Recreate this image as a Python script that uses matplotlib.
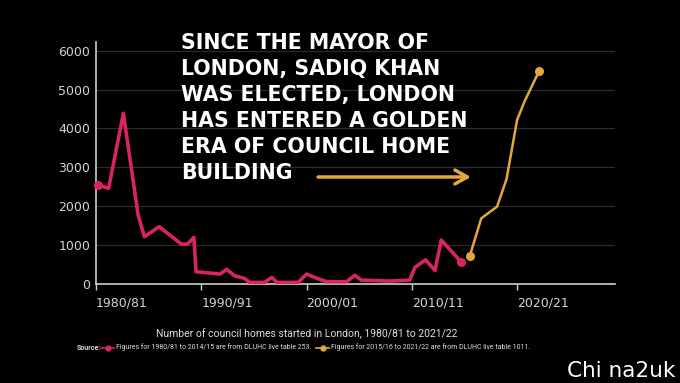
import matplotlib
matplotlib.use("Agg")
import matplotlib.pyplot as plt
from matplotlib.lines import Line2D

# values (x in years, y in homes started)
pink_years = [1980.2, 1981.2, 1982.6, 1984.0, 1984.6, 1986.0, 1988.1, 1988.7, 1989.3, 1989.5,
              1991.8, 1992.4, 1993.2, 1994.1, 1994.6, 1996.0, 1996.7, 1997.2, 1999.2, 2000.0,
              2001.0, 2001.9, 2003.8, 2004.6, 2005.2, 2007.9, 2009.8, 2010.3, 2011.3, 2012.2,
              2012.8, 2014.7]
pink_homes = [2545, 2460, 4390, 1775, 1216, 1473, 1028, 1028, 1200, 316,
              256, 377, 206, 146, 40, 40, 170, 40, 40, 256,
              146, 60, 60, 226, 100, 75, 100, 430, 620, 350,
              1130, 560]

gold_years = [2015.5, 2016.6, 2018.1, 2019.0, 2020.0, 2020.7, 2022.1]
gold_homes = [717, 1690, 1990, 2700, 4220, 4690, 5480]

tick_years = [1980, 1990, 2000, 2010, 2020]
tick_labels = ["1980/81", "1990/91", "2000/01", "2010/11", "2020/21"]
y_ticks = [0, 1000, 2000, 3000, 4000, 5000, 6000]

headline = ("SINCE THE MAYOR OF\nLONDON, SADIQ KHAN\nWAS ELECTED, LONDON\n"
            "HAS ENTERED A GOLDEN\nERA OF COUNCIL HOME\nBUILDING")
caption = "Number of council homes started in London, 1980/81 to 2021/22"
src_pink = "Figures for 1980/81 to 2014/15 are from DLUHC live table 253."
src_gold = "Figures for 2015/16 to 2021/22 are from DLUHC live table 1011."

PINK = "#d8245f"
GOLD = "#e2a83c"
W, H = 680, 383

fig = plt.figure(figsize=(W / 100, H / 100), dpi=100, facecolor="black")
ax = fig.add_axes([96 / W, 1 - 284 / H, (615 - 96) / W, (284 - 41.7) / H])
ax.set_facecolor("black")

ax.plot(pink_years, pink_homes, color=PINK, lw=2.6, solid_joinstyle="round", zorder=3)
ax.plot([pink_years[0], pink_years[-1]], [pink_homes[0], pink_homes[-1]], "o",
        color=PINK, ms=5.5, zorder=4, clip_on=False)
ax.plot(gold_years, gold_homes, color=GOLD, lw=1.8, solid_joinstyle="round", zorder=3)
ax.plot([gold_years[0], gold_years[-1]], [gold_homes[0], gold_homes[-1]], "o",
        color=GOLD, ms=5.5, zorder=4, clip_on=False)

ax.set_xlim(1980, 2029.3)
ax.set_ylim(0, 6230)
ax.set_yticks(y_ticks)
ax.set_xticks(tick_years)
ax.set_xticklabels(tick_labels, ha="left")
ax.grid(axis="y", color="#2b2b2b", lw=0.9)
ax.set_axisbelow(True)
for s in ["top", "right"]:
    ax.spines[s].set_visible(False)
for s in ["left", "bottom"]:
    ax.spines[s].set_color("#cfcfcf")
    ax.spines[s].set_linewidth(1.2)
ax.tick_params(axis="y", length=0, pad=4, labelsize=9, labelcolor="#d4d4d4")
ax.tick_params(axis="x", length=4, width=1, color="#cfcfcf", pad=5,
               labelsize=9, labelcolor="#d4d4d4")

fig.text(181 / W, 1 - 33 / H, headline, color="white", fontsize=14.8,
         fontweight="heavy", va="top", ha="left", linespacing=1.37,
         family="DejaVu Sans")

ax.annotate("", xy=(471 / W, 1 - 177 / H), xytext=(318 / W, 1 - 177 / H),
            xycoords="figure fraction", textcoords="figure fraction",
            arrowprops=dict(arrowstyle="->, head_length=0.9, head_width=0.5",
                            color=GOLD, lw=2.5, shrinkA=0, shrinkB=0))

fig.text(307 / W, 1 - 334 / H, caption, color="#e0e0e0", fontsize=7.5,
         ha="center", va="center", family="Roboto")

ys = 1 - 347.5 / H
fig.text(77 / W, ys, "Source:", color="#dddddd", fontsize=5, fontweight="bold",
         ha="left", va="center", family="Roboto")
fig.add_artist(Line2D([101 / W, 114 / W], [ys, ys], color=PINK, lw=1.2))
fig.add_artist(Line2D([107.5 / W], [ys], marker="o", color=PINK, ms=3.5))
fig.text(116 / W, ys, src_pink, color="#dddddd", fontsize=5, ha="left",
         va="center", family="Roboto")
fig.add_artist(Line2D([316 / W, 329 / W], [ys, ys], color=GOLD, lw=1.2))
fig.add_artist(Line2D([322.5 / W], [ys], marker="o", color=GOLD, ms=3.5))
fig.text(331 / W, ys, src_gold, color="#dddddd", fontsize=5, ha="left",
         va="center", family="Roboto")

fig.text(567 / W, 1 - 371 / H, "Chi na2uk", color="white", fontsize=15.5,
         ha="left", va="center")

fig.savefig("out.png", dpi=100, facecolor="black")
